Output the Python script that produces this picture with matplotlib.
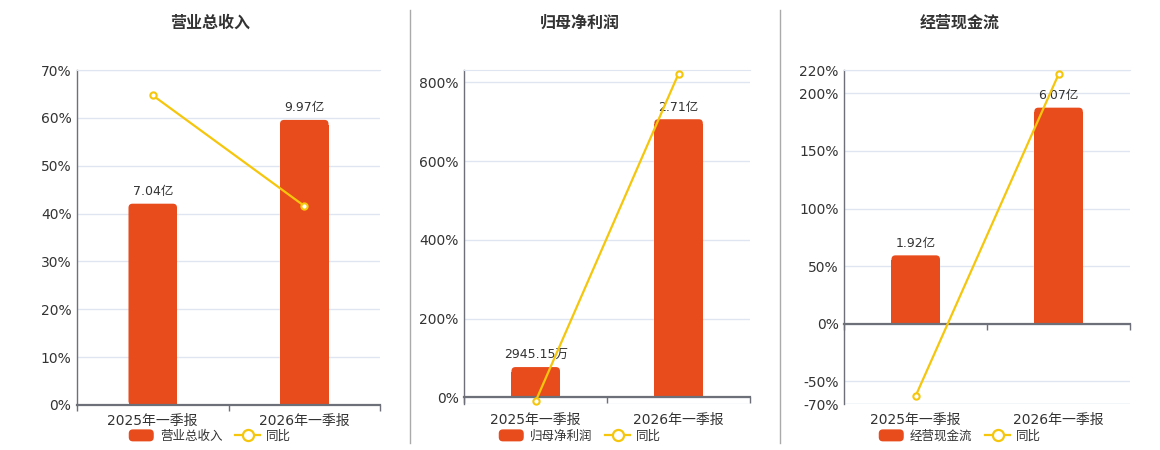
import matplotlib
matplotlib.use("Agg")
import matplotlib.pyplot as plt
from matplotlib.patches import Patch, FancyBboxPatch, Rectangle
from matplotlib.lines import Line2D
from matplotlib.legend_handler import HandlerPatch
from matplotlib.ticker import FuncFormatter

plt.rcParams['font.family'] = ['DejaVu Sans', 'Noto Sans CJK SC']

# ---------------- data ----------------
categories = ['2025年一季报', '2026年一季报']

titles = ['营业总收入', '归母净利润', '经营现金流']

revenue = [7.04, 9.97]            # 亿
revenue_labels = ['7.04亿', '9.97亿']
revenue_yoy = [64.7, 41.6]        # %

profit = [0.294515, 2.71]         # 亿
profit_labels = ['2945.15万', '2.71亿']
profit_yoy = [-9.4, 822.0]        # %

cash = [1.92, 6.07]               # 亿
cash_labels = ['1.92亿', '6.07亿']
cash_yoy = [-62.6, 216.5]         # %

# ---------------- style ----------------
BAR = '#E84B1C'
LINE = '#F5C60B'
TXT = '#333333'
AXIS = '#6E7079'
GRID = '#E0E6F1'

W, H = 1160, 450
fig = plt.figure(figsize=(W / 100, H / 100), dpi=100)

panels = [
    dict(rect=(77, 70, 380, 405), ylim=(0, 70), ticks=[0, 10, 20, 30, 40, 50, 60, 70],
         scale=5.975, cx=210,
         bars=revenue, labels=revenue_labels, yoy=revenue_yoy),
    dict(rect=(464.3, 70.3, 750, 404.3), ylim=(-17.8, 830.5), ticks=[0, 200, 400, 600, 800],
         scale=260.6, cx=580,
         bars=profit, labels=profit_labels, yoy=profit_yoy),
    dict(rect=(844.3, 70.3, 1130, 404.3), ylim=(-70, 220),
         ticks=[-70, -50, 0, 50, 100, 150, 200, 220],
         scale=30.9, cx=960,
         bars=cash, labels=cash_labels, yoy=cash_yoy),
]


class RoundPatchHandler(HandlerPatch):
    def create_artists(self, legend, orig_handle, xdescent, ydescent,
                       width, height, fontsize, trans):
        p = FancyBboxPatch((-xdescent, -ydescent), width, height,
                           boxstyle='round,pad=0,rounding_size=3',
                           facecolor=orig_handle.get_facecolor(), edgecolor='none',
                           transform=trans)
        return [p]


x = list(range(len(categories)))
RADIUS_PX = 4

for title, p in zip(titles, panels):
    l, t, r, b = p['rect']
    ax = fig.add_axes([l / W, 1 - b / H, (r - l) / W, (b - t) / H])
    lo, hi = p['ylim']
    s = p['scale']
    ax.set_xlim(-0.5, 1.5)
    ax.set_ylim(lo / s, hi / s)
    ax.patch.set_visible(False)

    # grid lines (behind bars)
    for tk in p['ticks']:
        ax.axhline(tk / s, color=GRID, lw=1, zorder=0)
    ax.axhline(lo / s, color=GRID, lw=1, zorder=0)

    # spines
    ax.spines['right'].set_visible(False)
    ax.spines['top'].set_color(GRID)
    ax.spines['left'].set_color(AXIS)
    ax.spines['left'].set_linewidth(1)
    ax.spines['bottom'].set_position(('data', 0))
    ax.spines['bottom'].set_color(AXIS)
    ax.spines['bottom'].set_linewidth(1.6)
    ax.spines['bottom'].set_zorder(3)
    ax.set_yticks([])
    ax.set_xticks(x)
    ax.set_xticklabels([])
    ax.set_xticks([-0.5, 0.5, 1.5], minor=True)
    ax.tick_params(axis='x', which='major', length=0)
    ax.tick_params(axis='x', which='minor', length=4, color=AXIS, width=1)

    # bars (rounded top corners)
    cat_w = (r - l) / 2
    bw = 48.5 / cat_w
    bars = ax.bar(x, p['bars'], width=bw, color=BAR, zorder=2)
    xpp = 2.0 / (r - l)
    ypp = (hi - lo) / s / (b - t)
    rad = RADIUS_PX * xpp
    for rect in bars:
        rect.set_visible(False)
        x0, y0 = rect.get_x(), rect.get_y()
        w, h = rect.get_width(), rect.get_height()
        ax.add_patch(FancyBboxPatch((x0, y0), w, h,
                                    boxstyle=f'round,pad=0,rounding_size={rad}',
                                    mutation_aspect=ypp / xpp,
                                    facecolor=BAR, edgecolor='none', zorder=2))
        ax.add_patch(Rectangle((x0, y0), w, h - RADIUS_PX * ypp * 1.2,
                               facecolor=BAR, edgecolor='none', zorder=2))
    ax.bar_label(bars, labels=p['labels'], padding=4, fontsize=9, color=TXT)

    # x tick labels at bottom of the plot area
    sec = ax.secondary_xaxis('bottom')
    sec.set_xticks(x)
    sec.set_xticklabels(categories, fontsize=10, color=TXT)
    sec.spines['bottom'].set_visible(False)
    sec.tick_params(length=0, pad=6.5)

    # yoy line on twin axis
    axl = ax.twinx()
    axl.set_ylim(lo, hi)
    for sp in axl.spines.values():
        sp.set_visible(False)
    axl.yaxis.set_ticks_position('left')
    axl.yaxis.set_label_position('left')
    axl.set_yticks(p['ticks'])
    axl.yaxis.set_major_formatter(FuncFormatter(lambda v, pos: f'{v:.0f}%'))
    axl.tick_params(axis='y', length=0, pad=4, labelsize=10, labelcolor=TXT)
    axl.plot(x, p['yoy'], color=LINE, lw=1.6, marker='o', markersize=4.5,
             markerfacecolor='white', markeredgecolor=LINE, markeredgewidth=1.5,
             zorder=5, clip_on=False)

    # title
    fig.text(p['cx'] / W, 1 - 23 / H, title, ha='center', va='center',
             fontsize=11.5, fontweight='bold', color=TXT)

    # legend
    handles = [Patch(facecolor=BAR, edgecolor='none'),
               Line2D([], [], color=LINE, lw=1.6, marker='o', markersize=8,
                      markerfacecolor='white', markeredgecolor=LINE, markeredgewidth=1.6)]
    fig.legend(handles, [title, '同比'], loc='center',
               bbox_to_anchor=(p['cx'] / W, 1 - 436 / H), ncol=2, frameon=False,
               fontsize=9, labelcolor=TXT, handlelength=2.0, handleheight=1.1,
               handletextpad=0.5, columnspacing=1.0, borderpad=0, borderaxespad=0,
               handler_map={Patch: RoundPatchHandler()})

# panel dividers
for xd in (410.3, 780.3):
    fig.add_artist(Line2D([xd / W, xd / W], [1 - 10 / H, 1 - 443 / H],
                          transform=fig.transFigure, color='#AAAAAA', lw=1))

fig.savefig('out.png', dpi=100)
